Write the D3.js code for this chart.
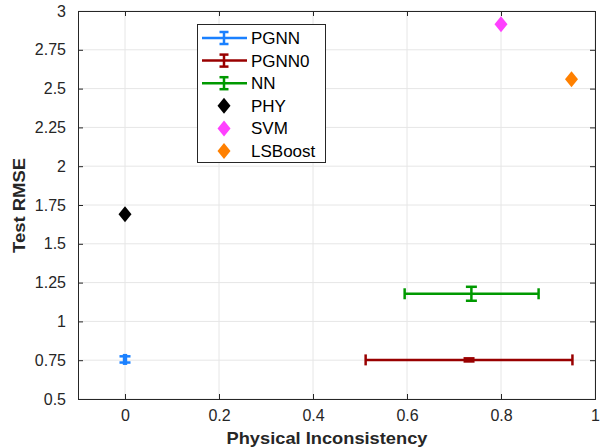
<!DOCTYPE html>
<html><head><meta charset="utf-8">
<script src="https://cdn.jsdelivr.net/npm/d3@7"></script>
<style>body{margin:0;background:#fff}svg{display:block}text{font-family:"Liberation Sans",Arial,sans-serif}</style>
</head><body>
<svg id="c" width="600" height="448"></svg>
<script>
// data
const errNames = ["PGNN", "PGNN0", "NN"];
const errX = [0.0, 0.732, 0.737];
const errY = [0.755, 0.752, 1.178];
const errXNeg = [0.002, 0.220, 0.142];
const errXPos = [0.002, 0.220, 0.143];
const errYErr = [0.020, 0.010, 0.045];
const errColors = ["#1a80ff", "#990000", "#009900"];

const ptNames = ["PHY", "SVM", "LSBoost"];
const ptX = [0.0, 0.80, 0.95];
const ptY = [1.69, 2.915, 2.56];
const ptColors = ["#000000", "#ff40ff", "#ff8000"];

const xTicks = [0, 0.2, 0.4, 0.6, 0.8, 1];
const yTicks = [0.5, 0.75, 1, 1.25, 1.5, 1.75, 2, 2.25, 2.5, 2.75, 3];

const svg = d3.select("#c");
const L = 78, R = 595, T = 11, B = 399;
const x = d3.scaleLinear().domain([-0.1, 1]).range([L, R]);
const y = d3.scaleLinear().domain([0.5, 3]).range([B, T]);

// grid
const g = svg.append("g");
g.selectAll(".gx").data(xTicks).join("line")
  .attr("x1", d => x(d)).attr("x2", d => x(d)).attr("y1", T).attr("y2", B)
  .attr("stroke", "#e6e6e6").attr("stroke-width", 1);
g.selectAll(".gy").data(yTicks).join("line")
  .attr("x1", L).attr("x2", R).attr("y1", d => y(d)).attr("y2", d => y(d))
  .attr("stroke", "#e6e6e6").attr("stroke-width", 1);

// axes
const axCol = "#262626";
const xAxis = d3.axisBottom(x).tickValues(xTicks).tickSize(-5).tickPadding(11).tickFormat(d3.format("~g"));
const yAxis = d3.axisLeft(y).tickValues(yTicks).tickSize(-5).tickPadding(12).tickFormat(d3.format("~g"));
const xa = svg.append("g").attr("transform", `translate(0,${B})`).call(xAxis);
const ya = svg.append("g").attr("transform", `translate(${L},0)`).call(yAxis);
const xt = svg.append("g").attr("transform", `translate(0,${T})`).call(d3.axisTop(x).tickValues(xTicks).tickSize(-5).tickFormat(""));
const yr = svg.append("g").attr("transform", `translate(${R},0)`).call(d3.axisRight(y).tickValues(yTicks).tickSize(-5).tickFormat(""));
[xa, ya, xt, yr].forEach(a => {
  a.select(".domain").attr("stroke", axCol).attr("stroke-width", 1);
  a.selectAll(".tick line").attr("stroke", axCol);
  a.selectAll(".tick text").attr("fill", axCol).attr("font-size", 16)
    .attr("font-family", "Liberation Sans, Arial, sans-serif");
});

// error bars
const cap = 5.5;
errNames.forEach((n, i) => {
  const gg = svg.append("g").attr("stroke", errColors[i]).attr("stroke-width", 2.5).attr("fill", "none");
  const cx = x(errX[i]), cy = y(errY[i]);
  const x0 = x(errX[i] - errXNeg[i]), x1 = x(errX[i] + errXPos[i]);
  const y0 = y(errY[i] - errYErr[i]), y1 = y(errY[i] + errYErr[i]);
  gg.append("line").attr("x1", x0).attr("x2", x1).attr("y1", cy).attr("y2", cy);
  gg.append("line").attr("x1", x0).attr("x2", x0).attr("y1", cy - cap).attr("y2", cy + cap);
  gg.append("line").attr("x1", x1).attr("x2", x1).attr("y1", cy - cap).attr("y2", cy + cap);
  gg.append("line").attr("x1", cx).attr("x2", cx).attr("y1", y0).attr("y2", y1);
  gg.append("line").attr("x1", cx - cap).attr("x2", cx + cap).attr("y1", y0).attr("y2", y0);
  gg.append("line").attr("x1", cx - cap).attr("x2", cx + cap).attr("y1", y1).attr("y2", y1);
});

// diamonds
const diamond = (cx, cy) => `M${cx},${cy - 8}L${cx + 6.5},${cy}L${cx},${cy + 8}L${cx - 6.5},${cy}Z`;
svg.selectAll(".pt").data(ptNames).join("path")
  .attr("d", (d, i) => diamond(x(ptX[i]), y(ptY[i])))
  .attr("fill", (d, i) => ptColors[i]);

// axis labels
svg.append("text").attr("x", 327).attr("y", 444).attr("text-anchor", "middle")
  .attr("font-size", 17).attr("font-weight", "bold").attr("fill", axCol)
  .attr("textLength", 201).attr("lengthAdjust", "spacingAndGlyphs").text("Physical Inconsistency");
svg.append("text").attr("transform", `translate(25,205.5) rotate(-90)`).attr("text-anchor", "middle")
  .attr("font-size", 17).attr("font-weight", "bold").attr("fill", axCol)
  .attr("textLength", 95).attr("lengthAdjust", "spacingAndGlyphs").text("Test RMSE");

// legend
const lg = svg.append("g");
lg.append("rect").attr("x", 197.5).attr("y", 24.5).attr("width", 128).attr("height", 138)
  .attr("fill", "#fff").attr("stroke", "#262626").attr("stroke-width", 1);
const rowY = i => 38 + i * 22.6;
errNames.forEach((n, i) => {
  const cy = rowY(i);
  const gg = lg.append("g").attr("stroke", errColors[i]).attr("stroke-width", 2.5);
  gg.append("line").attr("x1", 202).attr("x2", 247).attr("y1", cy).attr("y2", cy);
  gg.append("line").attr("x1", 224).attr("x2", 224).attr("y1", cy - 6).attr("y2", cy + 6);
  gg.append("line").attr("x1", 219.5).attr("x2", 228.5).attr("y1", cy - 6).attr("y2", cy - 6);
  gg.append("line").attr("x1", 219.5).attr("x2", 228.5).attr("y1", cy + 6).attr("y2", cy + 6);
  lg.append("text").attr("x", 251).attr("y", cy + 6).attr("font-size", 17).attr("fill", "#000").text(n);
});
ptNames.forEach((n, i) => {
  const cy = rowY(i + 3);
  lg.append("path").attr("d", diamond(224, cy)).attr("fill", ptColors[i]);
  lg.append("text").attr("x", 251).attr("y", cy + 6).attr("font-size", 17).attr("fill", "#000").text(n);
});
</script>
</body></html>
